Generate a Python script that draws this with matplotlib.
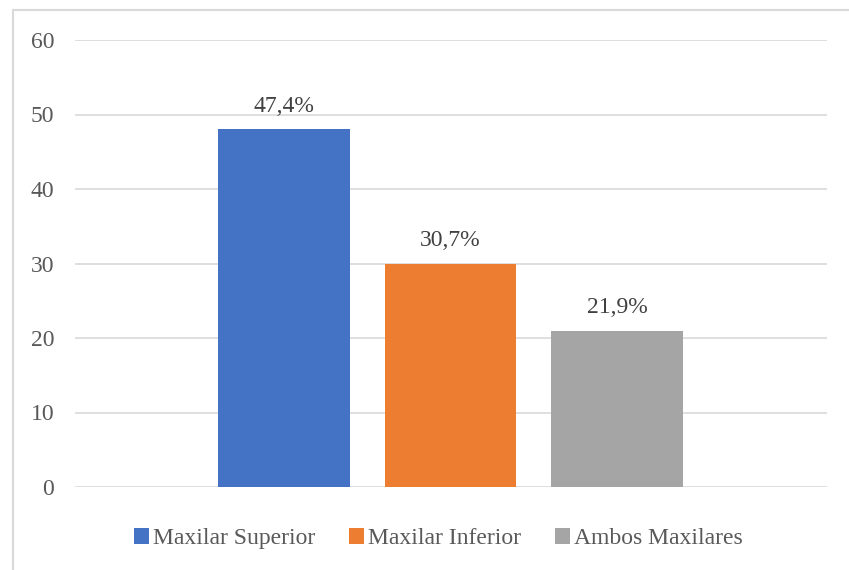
import numpy as np
import matplotlib.pyplot as plt
from matplotlib.patches import Rectangle

series = ['Maxilar Superior', 'Maxilar Inferior', 'Ambos Maxilares']
values = [48, 30, 21]
labels = ['47,4%', '30,7%', '21,9%']
colors = ['#4472C4', '#ED7D31', '#A5A5A5']
yticks = [0, 10, 20, 30, 40, 50, 60]

plt.rcParams['font.family'] = ['Liberation Serif', 'DejaVu Serif']
txt = '#595959'
fs = 17

fig = plt.figure(figsize=(8.49, 5.70), dpi=100)
ax = fig.add_axes([75/849, 1-487/570, 752/849, 447/570])

x = np.arange(len(values))
bars = ax.bar(x, values, width=0.79, color=colors, label=series, zorder=3)
for b, lab in zip(bars, labels):
    ax.text(b.get_x() + b.get_width()/2, b.get_height() + 1.7, lab,
            ha='center', va='bottom', fontsize=fs, color='#404040')

ax.set_xlim(-1.255, 3.26)
ax.set_ylim(0, 60)
ax.set_yticks(yticks)
ax.set_xticks([])
ax.grid(axis='y', color='#D9D9D9', linewidth=1.2, zorder=0)
for s in ax.spines.values():
    s.set_visible(False)
ax.tick_params(axis='y', length=0, pad=15, labelsize=fs, labelcolor=txt)

leg = ax.legend(loc='upper center', bbox_to_anchor=(0.483, -0.045), ncol=3,
                frameon=False, fontsize=fs, handlelength=0.64, handleheight=0.64,
                handletextpad=0.15, columnspacing=1.45)
for t in leg.get_texts():
    t.set_color(txt)

# outer chart border (top and left visible)
fig.add_artist(Rectangle((13/849, -0.1), 1.2, 1 - 10/570 + 0.1,
                         transform=fig.transFigure, fill=False,
                         edgecolor='#D9D9D9', linewidth=1.5))

fig.savefig('out.png', dpi=100)
